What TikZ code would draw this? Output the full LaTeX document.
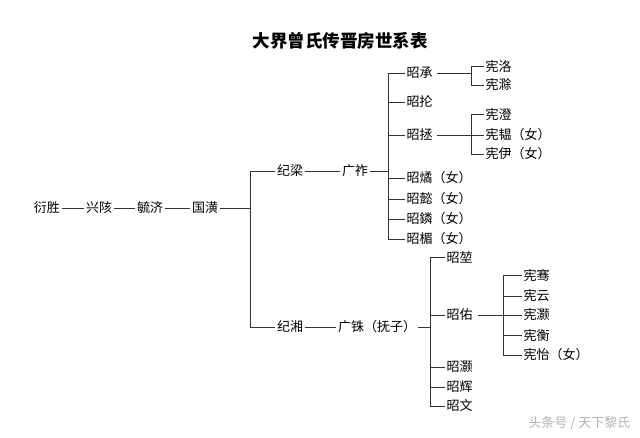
\documentclass[tikz,border=0pt]{standalone}
\usepackage{fontspec}
\newfontfamily\cjk{Noto Sans CJK SC}
\tikzset{
  person/.style = {font=\cjk\fontsize{13}{15}\selectfont, inner sep=1.5pt},
  kid/.style    = {person, anchor=west},
  link/.style   = {draw, line width=0.8pt, black!80},
  title/.style  = {font=\cjk\bfseries\fontsize{17.5}{20}\selectfont}
}

\begin{document}
\begin{tikzpicture}[x=1pt, y=-1pt]
  \useasboundingbox (0,0) rectangle (640,437);
  \node [title] (head) at (340,41) {大界曾氏传晋房世系表};

  % main line
  \node [person] (ys) at (47,208)  {衍胜};
  \node [person] (xg) at (99,208)  {兴陔};
  \node [person] (yj) at (150,208) {毓济};
  \node [person] (gh) at (205,208) {国潢};
  \draw [link] (ys) -- (xg);
  \draw [link] (xg) -- (yj);
  \draw [link] (yj) -- (gh);

  % second generation
  \node [person] (jl) at (290,171) {纪梁};
  \node [person] (jx) at (290,327) {纪湘};
  \coordinate (busA) at (250,0);
  \draw [link] (gh.east) -- (gh.east -| busA);
  \draw [link] (jl.west -| busA) -- (jx.west -| busA);
  \foreach \n in {jl,jx}
    \draw [link] (\n.west -| busA) -- (\n.west);

  \node [person] (gz) at (355,171) {广祚};
  \node [person] (gs) at (377,327) {广铢（抚子）};
  \draw [link] (jl) -- (gz);
  \draw [link] (jx) -- (gs);

  % children of gz
  \node [kid] (zc) at (405,73)  {昭承};
  \node [kid] (zl) at (405,102) {昭抡};
  \node [kid] (zz) at (405,135) {昭拯};
  \node [kid] (zh) at (405,178) {昭燏（女）};
  \node [kid] (zy) at (405,199) {昭懿（女）};
  \node [kid] (zn) at (405,219) {昭鏻（女）};
  \node [kid] (zm) at (405,239) {昭楣（女）};
  \coordinate (busB) at (388,0);
  \draw [link] (gz.east) -- (gz.east -| busB);
  \draw [link] (zc.west -| busB) -- (zm.west -| busB);
  \foreach \n in {zc,zl,zz,zh,zy,zn,zm}
    \draw [link] (\n.west -| busB) -- (\n.west);

  % children of gs
  \node [kid] (zk) at (445,257) {昭堃};
  \node [kid] (zo) at (445,315) {昭佑};
  \node [kid] (zw) at (445,367) {昭灏};
  \node [kid] (zf) at (445,387) {昭辉};
  \node [kid] (zr) at (445,406) {昭文};
  \coordinate (busC) at (430,0);
  \draw [link] (gs.east) -- (gs.east -| busC);
  \draw [link] (zk.west -| busC) -- (zr.west -| busC);
  \foreach \n in {zk,zo,zw,zf,zr}
    \draw [link] (\n.west -| busC) -- (\n.west);

  % grandchildren of zc
  \node [kid] (xl) at (484,66)  {宪洛};
  \node [kid] (xs) at (484,85)  {宪滁};
  \coordinate (busD) at (471,0);
  \draw [link] ([xshift=3pt]zc.east) -- (zc.east -| busD);
  \draw [link] (xl.west -| busD) -- (xs.west -| busD);
  \foreach \n in {xl,xs}
    \draw [link] (\n.west -| busD) -- (\n.west);

  % grandchildren of zz
  \node [kid] (xc) at (484,114) {宪澄};
  \node [kid] (xy) at (484,135) {宪韫（女）};
  \node [kid] (xi) at (484,154) {宪伊（女）};
  \draw [link] ([xshift=3pt]zz.east) -- (zz.east -| busD);
  \draw [link] (xc.west -| busD) -- (xi.west -| busD);
  \foreach \n in {xc,xy,xi}
    \draw [link] (\n.west -| busD) -- (\n.west);

  % grandchildren of zo
  \node [kid] (xq) at (522,275) {宪骞};
  \node [kid] (xu) at (522,296) {宪云};
  \node [kid] (xh) at (522,315) {宪灏};
  \node [kid] (xe) at (522,335) {宪衡};
  \node [kid] (xt) at (522,355) {宪怡（女）};
  \coordinate (busE) at (503,0);
  \draw [link] ([xshift=4pt]zo.east) -- (zo.east -| busE);
  \draw [link] (xq.west -| busE) -- (xt.west -| busE);
  \foreach \n in {xq,xu,xh,xe,xt}
    \draw [link] (\n.west -| busE) -- (\n.west);

  \node [person, gray!60, anchor=east] (mark) at (632,423) {头条号 / 天下黎氏};
\end{tikzpicture}
\end{document}
